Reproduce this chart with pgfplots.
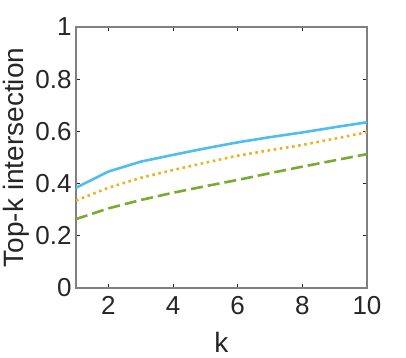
\documentclass[border=0pt]{standalone}
\usepackage{fontspec}
\setmainfont{Liberation Sans}
\usepackage{pgfplots}
\pgfplotsset{compat=1.18}
\definecolor{mblue}{RGB}{77,190,238}
\definecolor{morange}{RGB}{237,177,32}
\definecolor{mgreen}{RGB}{119,172,48}
\definecolor{axgray}{RGB}{128,128,128}
\definecolor{txt}{RGB}{38,38,38}
\begin{document}
\begin{tikzpicture}
\useasboundingbox (-76pt,-69pt) rectangle (330pt,288pt);
\begin{axis}[
    at={(0pt,0pt)}, anchor=south west,
    scale only axis,
    width=291pt, height=261pt,
    xmin=1, xmax=10, ymin=0, ymax=1,
    xtick={2,4,6,8,10},
    ytick={0,0.2,0.4,0.6,0.8,1},
    yticklabels={0,0.2,0.4,0.6,0.8,1},
    xticklabels={2,4,6,8,10},
    /pgf/number format/assume math mode=true,
    tick align=inside,
    major tick length=4pt,
    axis line style={axgray, line width=1.3pt},
    every tick/.style={txt, line width=0.8pt},
    tick label style={font=\fontsize{26}{30}\selectfont, text=txt},
    label style={font=\fontsize{28}{32}\selectfont, text=txt},
    xlabel={k}, ylabel={Top-k intersection},
    xlabel style={at={(axis description cs:0.5,0)}, anchor=center, yshift=-54pt},
    ylabel style={at={(axis description cs:0,0.5)}, anchor=center, yshift=60pt},
    yticklabel style={xshift=-1pt},
    xticklabel style={yshift=-5pt},
]
\addplot[mblue, line width=2.6pt] coordinates {
    (1,0.384) (2,0.446) (3,0.484) (4,0.510) (5,0.535) (6,0.558)
    (7,0.578) (8,0.596) (9,0.616) (10,0.635)
};
\addplot[morange, line width=2.6pt, dash pattern=on 2.6pt off 3.6pt] coordinates {
    (1,0.335) (2,0.384) (3,0.422) (4,0.452) (5,0.480) (6,0.507)
    (7,0.528) (8,0.548) (9,0.572) (10,0.597)
};
\addplot[mgreen, line width=2.6pt, dash pattern=on 12pt off 5pt] coordinates {
    (1,0.264) (2,0.305) (3,0.337) (4,0.365) (5,0.390) (6,0.414)
    (7,0.440) (8,0.465) (9,0.489) (10,0.513)
};
\end{axis}
\end{tikzpicture}
\end{document}
